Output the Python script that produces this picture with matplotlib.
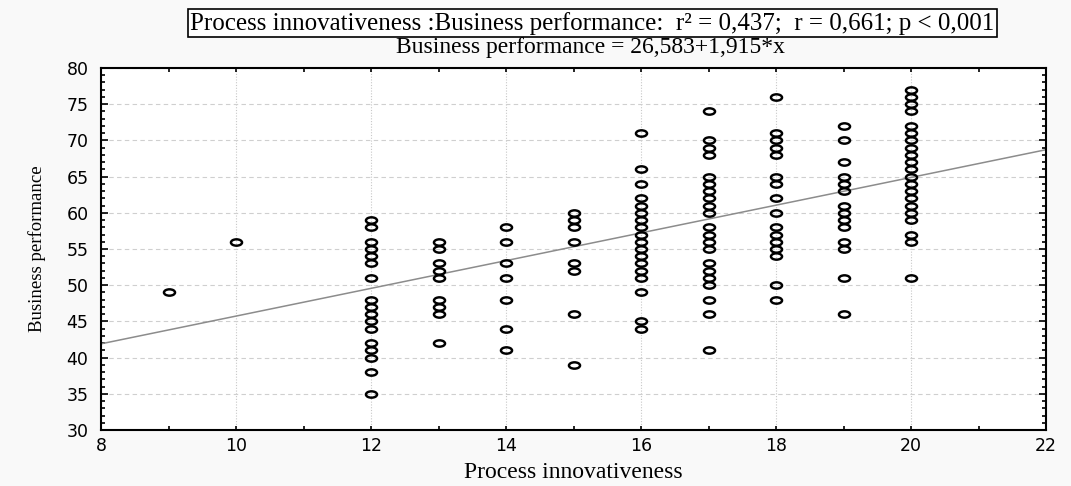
import numpy as np
import matplotlib
matplotlib.use("Agg")
import matplotlib.pyplot as plt
from matplotlib.path import Path
from matplotlib.ticker import MultipleLocator

# business performance scores observed at each process innovativeness score
bp_9 = [49]
bp_10 = [56]
bp_12 = [59, 58, 56, 55, 54, 53, 51, 48, 47, 46, 45, 44, 42, 41, 40, 38, 35]
bp_13 = [56, 55, 53, 52, 51, 48, 47, 46, 42]
bp_14 = [58, 56, 53, 51, 48, 44, 41]
bp_15 = [60, 59, 58, 56, 53, 52, 46, 39]
bp_16 = [71, 66, 64, 62, 61, 60, 59, 58, 57, 56, 55, 54, 53, 52, 51, 49, 45, 44]
bp_17 = [74, 70, 69, 68, 65, 64, 63, 62, 61, 60, 58, 57, 56, 55, 53, 52, 51, 50,
         48, 46, 41]
bp_18 = [76, 71, 70, 69, 68, 65, 64, 62, 60, 58, 57, 56, 55, 54, 50, 48]
bp_19 = [72, 70, 67, 65, 64, 63, 61, 60, 59, 58, 56, 55, 51, 46]
bp_20 = [77, 76, 75, 74, 72, 71, 70, 69, 68, 67, 66, 65, 64, 63, 62, 61, 60, 59,
         57, 56, 51]

pi_levels = [9, 10, 12, 13, 14, 15, 16, 17, 18, 19, 20]
bp_groups = [bp_9, bp_10, bp_12, bp_13, bp_14, bp_15, bp_16, bp_17, bp_18, bp_19, bp_20]

# fitted regression
intercept = 26.583
slope = 1.915
r2 = "0,437"
r = "0,661"
p = "0,001"

x = np.concatenate([[lvl] * len(g) for lvl, g in zip(pi_levels, bp_groups)])
y = np.concatenate(bp_groups)

# flat open-ellipse marker
circ = Path.unit_circle()
ellipse = Path(circ.vertices * [1.75, 1.0], circ.codes)

fig = plt.figure(figsize=(10.71, 4.86), dpi=100, facecolor="#f9f9f9")
ax = fig.add_axes([101 / 1071, 56 / 486, 945 / 1071, 362 / 486])
ax.set_facecolor("white")

ax.set_xlim(8, 22)
ax.set_ylim(30, 80)

xs = np.array([8, 22])
ax.plot(xs, intercept + slope * xs, color="#8c8c8c", lw=1.1, zorder=2)
ax.plot(x, y, linestyle="none", marker=ellipse, markersize=8,
        markerfacecolor="none", markeredgecolor="black", markeredgewidth=1.75,
        zorder=3)

# grid
ax.xaxis.set_major_locator(MultipleLocator(2))
ax.xaxis.set_minor_locator(MultipleLocator(1))
ax.yaxis.set_major_locator(MultipleLocator(5))
ax.yaxis.set_minor_locator(MultipleLocator(1))
ax.grid(axis="x", which="major", color="#c8c8c8", lw=0.8, linestyle=(0, (1, 1.5)))
ax.grid(axis="y", which="major", color="#cfcfcf", lw=0.8, linestyle=(0, (4, 3)))
ax.set_axisbelow(True)

for s in ax.spines.values():
    s.set_linewidth(1.5)

ax.tick_params(which="both", direction="in", top=True, right=True, width=1.2)
ax.tick_params(axis="x", which="both", length=3, pad=5)
ax.tick_params(axis="y", which="major", length=5, pad=9)
ax.tick_params(axis="y", which="minor", length=3)
for lab in ax.get_xticklabels() + ax.get_yticklabels():
    lab.set_fontfamily("DejaVu Sans")
    lab.set_fontsize(12.5)

ax.set_xlabel("Process innovativeness", family="Liberation Serif", fontsize=17,
              labelpad=5)
ax.set_ylabel("Business performance", family="Liberation Serif", fontsize=13.5,
              labelpad=15)

title = ("Process innovativeness :Business performance:  r\u00b2 = %s;  r = %s; p < %s"
         % (r2, r, p))
fig.text(0.553, 0.952, title, family="Liberation Serif", fontsize=18,
         ha="center", va="center",
         bbox=dict(boxstyle="square,pad=0.1", facecolor="white",
                   edgecolor="black", lw=1.2))
fig.text(0.551, 0.903, "Business performance = %s+%s*x"
         % (f"{intercept:.3f}".replace(".", ","), f"{slope:.3f}".replace(".", ",")),
         family="Liberation Serif", fontsize=17, ha="center", va="center")

fig.savefig("out.png", dpi=100, facecolor=fig.get_facecolor())
